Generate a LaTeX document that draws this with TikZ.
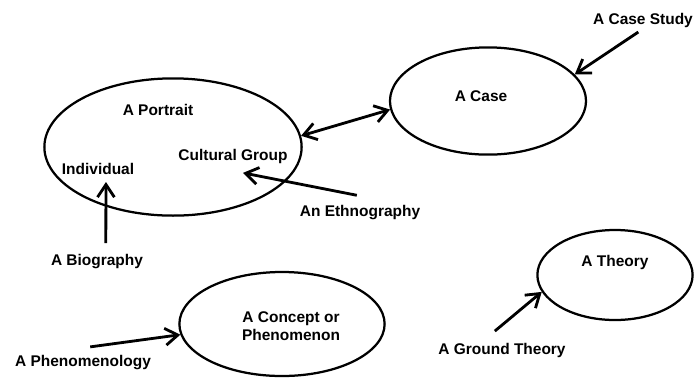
\documentclass[tikz,border=0pt]{standalone}
\usepackage{fontspec}
\setmainfont{Liberation Sans}
\usetikzlibrary{shapes.geometric,arrows.meta,positioning,calc}

\begin{document}
\begin{tikzpicture}[x=0.025cm, y=-0.025cm,
  oval/.style={draw=black, ellipse, line width=1.6pt, inner sep=0pt},
  lbl/.style={font=\fontsize{11}{13}\selectfont\bfseries, inner sep=1pt, align=center},
  arr/.style={draw=black, line width=2pt, -{Straight Barb[length=9pt,width=12pt]}},
  dblarr/.style={draw=black, line width=2pt,
                 {Straight Barb[length=9pt,width=12pt]}-{Straight Barb[length=9pt,width=12pt]}}
]
\useasboundingbox (0,0) rectangle (697,378);

%% the four ovals
\node[oval, minimum width=6.43cm, minimum height=3.43cm] (portrait) at (173,147) {};
\node[oval, minimum width=4.9cm,  minimum height=2.68cm] (case)     at (488,101) {};
\node[oval, minimum width=5.13cm, minimum height=2.6cm]  (concept)  at (282,324) {};
\node[oval, minimum width=3.88cm, minimum height=2.25cm] (theory)   at (615,275) {};

%% texts inside the ovals
\node[lbl] (portraitlbl) at (158,110) {A Portrait};
\node[lbl] (indiv)       at (98,169)  {Individual};
\node[lbl] (cult)        at (233,156) {Cultural Group};
\node[lbl] (caselbl)     at (481,96)  {A Case};
\node[lbl] (conceptlbl)  at (291,326) {A Concept or\\Phenomenon};
\node[lbl] (theorylbl)   at (615,262) {A Theory};

%% the research approaches
\node[lbl] (study) at (643,20)  {A Case Study};
\node[lbl] (eth)   at (360,213) {An Ethnography};
\node[lbl] (bio)   at (97,262)  {A Biography};
\node[lbl] (phen)  at (83,363)  {A Phenomenology};
\node[lbl] (gt)    at (502,350) {A Ground Theory};

%% connectors
\draw[dblarr] (portrait.5) -- (case.185);
\draw[arr, shorten <=4pt] (study.south) -- (case.17);
\draw[arr] ([xshift=-0.08cm,yshift=0.22cm]eth.north) -- ([xshift=0.25cm,yshift=-0.2cm]cult.south);
\draw[arr, shorten >=4pt] ([xshift=0.22cm,yshift=0.25cm]bio.north) -- ([xshift=0.2cm]indiv.south);
\draw[arr] ([xshift=0.18cm,yshift=0.18cm]phen.north) -- (concept.186);
\draw[arr] ([xshift=-0.18cm,yshift=0.25cm]gt.north) -- (theory.193);

\end{tikzpicture}
\end{document}
